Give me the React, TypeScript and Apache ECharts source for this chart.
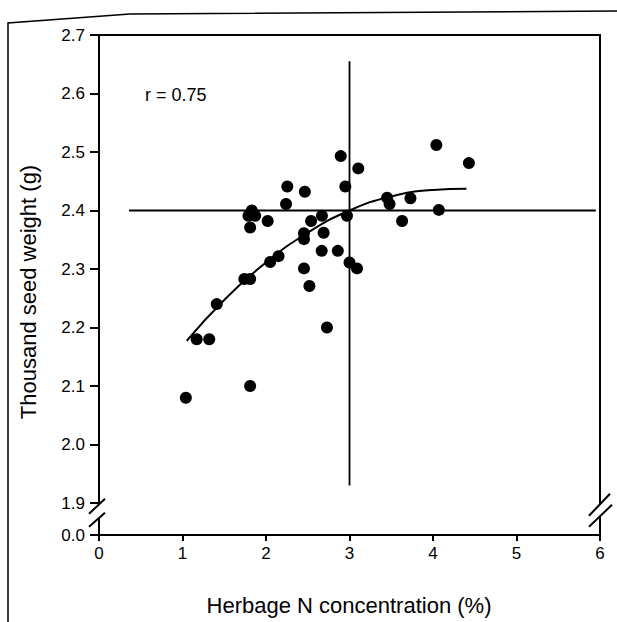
import React, { useEffect, useRef } from "react";
import * as echarts from "echarts";

// ---- data ----
const xTickLabels = ["0", "1", "2", "3", "4", "5", "6"];
// first value is the broken-axis origin, labelled "0.0"
const yTickValues = [1.8453, 1.9, 2.0, 2.1, 2.2, 2.3, 2.4, 2.5, 2.6, 2.7];
const yTickLabels = ["0.0", "1.9", "2.0", "2.1", "2.2", "2.3", "2.4", "2.5", "2.6", "2.7"];

const nConc = [
  1.04, 1.17, 1.32, 1.41, 1.74, 1.81, 1.81, 1.79, 1.83, 1.87,
  1.81, 2.02, 2.05, 2.15, 2.24, 2.255, 2.465, 2.455, 2.455, 2.455,
  2.52, 2.54, 2.67, 2.69, 2.667, 2.73, 2.86, 2.895, 2.95, 2.97,
  3.0, 3.09, 3.105, 3.45, 3.48, 3.73, 3.63, 4.07, 4.04, 4.43,
];
const seedWeight = [
  2.08, 2.18, 2.18, 2.24, 2.283, 2.283, 2.10, 2.391, 2.40, 2.391,
  2.371, 2.382, 2.312, 2.322, 2.411, 2.441, 2.432, 2.361, 2.351, 2.301,
  2.271, 2.382, 2.391, 2.362, 2.331, 2.20, 2.331, 2.493, 2.441, 2.391,
  2.311, 2.301, 2.472, 2.422, 2.411, 2.421, 2.382, 2.401, 2.512, 2.481,
];

const fitX = [1.05, 1.5, 2.0, 2.5, 3.0, 3.5, 4.0, 4.4];
const fitY = [2.177, 2.247, 2.311, 2.362, 2.40, 2.424, 2.435, 2.437];

const meanLineX = [0.36, 5.95];
const meanLineY = [2.4, 2.4];
const vertLineX = [3.0, 3.0];
const vertLineY = [1.93, 2.655];

const rLabel = "r = 0.75";
const xTitle = "Herbage N concentration (%)";
const yTitle = "Thousand seed weight (g)";

const Y_MIN = 1.8453;
const Y_MAX = 2.7;
const BREAK_VAL = 1.885;

export default function App() {
  const ref = useRef<HTMLDivElement>(null);

  useEffect(() => {
    if (!ref.current) return;
    const chart = echarts.init(ref.current, null, { renderer: "svg" });
    const font = "'Liberation Sans', Arial, sans-serif";
    const black = "#000";

    const findLabel = (v: number) => {
      for (let i = 0; i < yTickValues.length; i++) {
        if (Math.abs(yTickValues[i] - v) < 1e-6) return yTickLabels[i];
      }
      return "";
    };

    chart.setOption({
      animation: false,
      backgroundColor: "#fff",
      grid: { left: 99, right: 17, top: 35, bottom: 87, containLabel: false },
      xAxis: [
        {
          type: "value",
          min: 0,
          max: 6,
          interval: 1,
          position: "bottom",
          axisLine: { show: true, onZero: false, lineStyle: { color: black, width: 2 } },
          axisTick: { show: true, inside: false, length: 6, lineStyle: { color: black, width: 2 } },
          axisLabel: {
            color: black,
            fontSize: 17,
            fontFamily: font,
            margin: 10,
            formatter: (v: number) => xTickLabels[Math.round(v)] ?? "",
          },
          splitLine: { show: false },
        },
        {
          type: "value",
          min: 0,
          max: 6,
          position: "top",
          axisLine: { show: true, onZero: false, lineStyle: { color: black, width: 2 } },
          axisTick: { show: false },
          axisLabel: { show: false },
          splitLine: { show: false },
        },
      ],
      yAxis: [
        {
          type: "value",
          min: Y_MIN,
          max: Y_MAX,
          position: "left",
          axisLine: { show: true, onZero: false, lineStyle: { color: black, width: 2 } },
          axisTick: {
            show: true,
            inside: false,
            length: 9,
            customValues: yTickValues,
            lineStyle: { color: black, width: 2 },
          },
          axisLabel: {
            color: black,
            fontSize: 17,
            fontFamily: font,
            margin: 14,
            customValues: yTickValues,
            formatter: (v: number) => findLabel(v),
          },
          splitLine: { show: false },
        },
        {
          type: "value",
          min: Y_MIN,
          max: Y_MAX,
          position: "right",
          axisLine: { show: true, onZero: false, lineStyle: { color: black, width: 2 } },
          axisTick: { show: false },
          axisLabel: { show: false },
          splitLine: { show: false },
        },
      ],
      series: [
        {
          type: "line",
          data: meanLineX.map((x, i) => [x, meanLineY[i]]),
          symbol: "none",
          lineStyle: { color: black, width: 1.8 },
          silent: true,
          z: 1,
        },
        {
          type: "line",
          data: vertLineX.map((x, i) => [x, vertLineY[i]]),
          symbol: "none",
          lineStyle: { color: black, width: 1.8 },
          silent: true,
          z: 1,
        },
        {
          type: "line",
          data: fitX.map((x, i) => [x, fitY[i]]),
          symbol: "none",
          smooth: true,
          lineStyle: { color: black, width: 2 },
          silent: true,
          z: 2,
        },
        {
          type: "scatter",
          data: nConc.map((x, i) => [x, seedWeight[i]]),
          symbol: "circle",
          symbolSize: 12,
          itemStyle: { color: "#000", opacity: 1 },
          z: 3,
        },
      ],
    });

    const [lx, by] = chart.convertToPixel({ xAxisIndex: 0, yAxisIndex: 0 }, [0, BREAK_VAL]) as number[];
    const [rx] = chart.convertToPixel({ xAxisIndex: 0, yAxisIndex: 0 }, [6, BREAK_VAL]) as number[];
    const [tx, ty] = chart.convertToPixel({ xAxisIndex: 0, yAxisIndex: 0 }, [0.55, 2.6]) as number[];

    const slash = (x1: number, y1: number, x2: number, y2: number) => ({
      type: "line",
      shape: { x1, y1, x2, y2 },
      style: { stroke: black, lineWidth: 2 },
      z: 20,
    });

    chart.setOption({
      graphic: [
        // outer border of the figure
        {
          type: "polyline",
          shape: { points: [[8, 622], [8, 23], [130, 14], [617, 11]] },
          style: { stroke: black, lineWidth: 1.5, fill: null },
          silent: true,
        },
        // break on left axis
        { type: "rect", shape: { x: lx - 4, y: by - 7, width: 8, height: 13 }, style: { fill: "#fff" }, z: 19 },
        slash(lx - 10, by + 2, lx + 6, by - 13),
        slash(lx - 10, by + 15, lx + 6, by + 1),
        // break on right axis
        { type: "rect", shape: { x: rx - 4, y: by - 7, width: 8, height: 12 }, style: { fill: "#fff" }, z: 19 },
        slash(rx - 11, by + 4, rx + 10, by - 18),
        slash(rx - 11, by + 15, rx + 12, by - 7),
        // r label
        {
          type: "text",
          x: tx,
          y: ty + 1,
          style: { text: rLabel, fill: black, font: `18px ${font}`, textVerticalAlign: "middle", textAlign: "left" },
        },
        // axis titles
        {
          type: "text",
          x: 349,
          y: 605,
          style: { text: xTitle, fill: black, font: `22px ${font}`, textAlign: "center", textVerticalAlign: "middle" },
        },
        {
          type: "text",
          x: 28,
          y: 292,
          rotation: Math.PI / 2,
          style: { text: yTitle, fill: black, font: `22px ${font}`, textAlign: "center", textVerticalAlign: "middle" },
        },
      ],
    });

    return () => chart.dispose();
  }, []);

  return <div ref={ref} style={{ width: 617, height: 622, position: "absolute", left: 0, top: 0 }} />;
}
